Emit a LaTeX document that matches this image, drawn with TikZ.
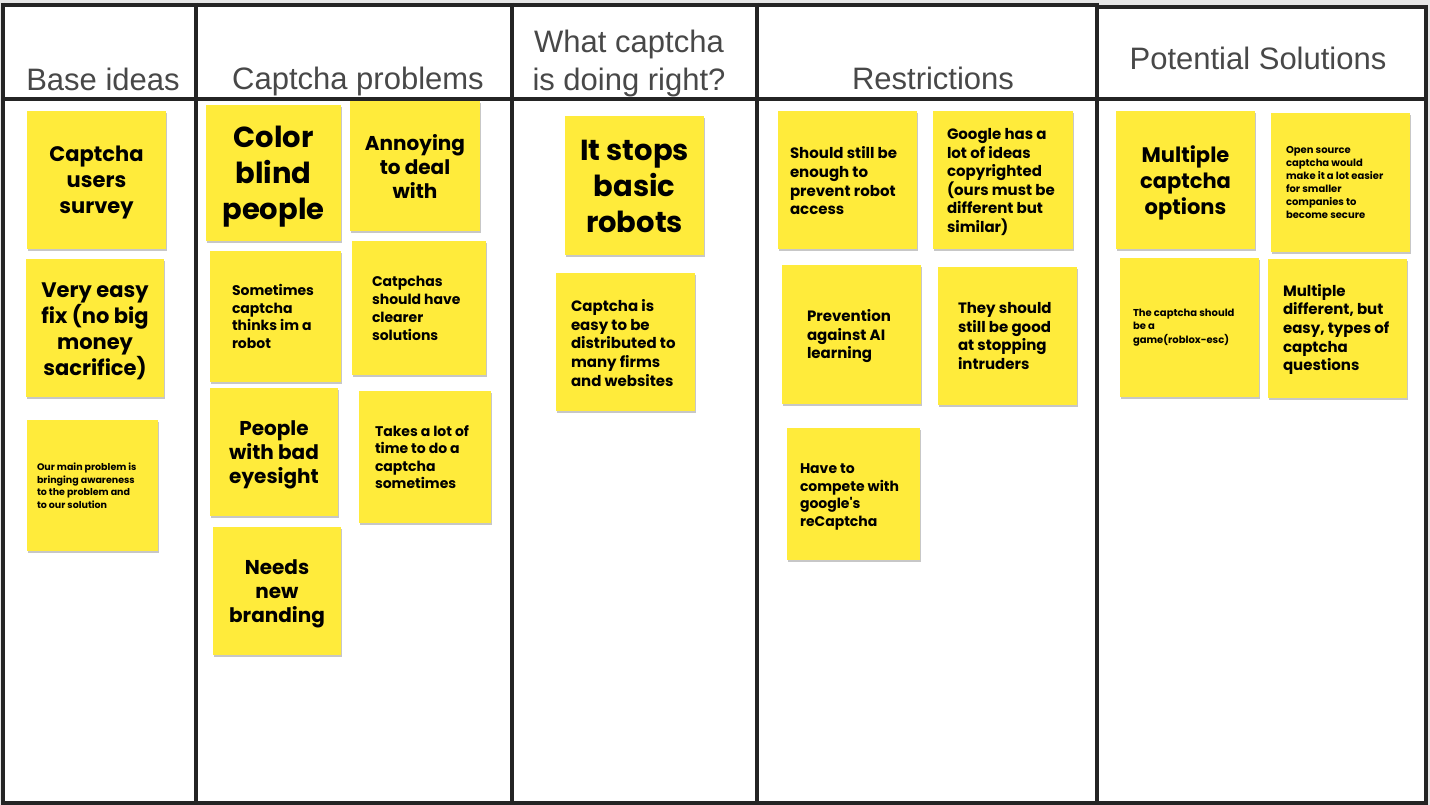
\documentclass[tikz,border=0pt]{standalone}
\usepackage{fontspec}
\setmainfont{Poppins}
\newfontfamily\popplain{Poppins}[Ligatures=TeXOff]
\newfontfamily\headfont{Liberation Sans}
\usetikzlibrary{shadows}
\definecolor{stickyY}{RGB}{255,235,59}
\definecolor{gridc}{RGB}{36,36,36}
\definecolor{headc}{RGB}{72,72,72}
\definecolor{bgc}{RGB}{230,230,230}
\newcommand\stickyat[5]{\node[stickybox, minimum width={#4-#2}, minimum height={#5-#3}] (#1) at ({(#2+#4)/2},{(#3+#5)/2}) {};}
\newcommand\fs[2]{\fontsize{#1}{#2}\selectfont}
\begin{document}
\begin{tikzpicture}[x=1pt,y=-1pt,
  stickybox/.style={rectangle, fill=stickyY, inner sep=0pt, draw=none,
    drop shadow={shadow xshift=1pt, shadow yshift=-2pt, fill=black, opacity=0.22}},
  txt/.style={inner sep=0pt, text=black, font=\bfseries},
  ctxt/.style={txt, align=center},
  ltxt/.style={txt, align=left, anchor=west},
  head/.style={inner sep=0pt, text=headc, font=\headfont\fs{31}{40}, anchor=base, align=center},
  gridline/.style={draw=gridc, line width=4pt}]
\useasboundingbox (0,0) rectangle (1430,805);
\fill[bgc] (0,0) rectangle (1430,805);
\fill[white] (3,5) rectangle (1428,803);
% grid
\draw[gridline] (3,5) -- (1097,5);
\draw[gridline] (1097,7) -- (1427,7);
\draw[gridline] (3,99) -- (1427,99);
\draw[gridline] (3,803) -- (1427,803);
\draw[gridline] (3,3) -- (3,805);
\draw[gridline] (196,3) -- (196,805);
\draw[gridline] (512,3) -- (512,805);
\draw[gridline] (757,3) -- (757,805);
\draw[gridline] (1097,3) -- (1097,805);
\draw[gridline] (1426,5) -- (1426,805);
% headers
\node[head] (h1) at (103,91) {Base ideas};
\node[head] (h2) at (358,90) {Captcha problems};
\node[head] (h3a) at (629,53) {What captcha};
\node[head] (h3b) at (629,91) {is doing right?};
\node[head] (h4) at (933,90) {Restrictions};
\node[head] (h5) at (1258,70) {Potential Solutions};
% column 1
\stickyat{a1}{27}{111}{166}{249}
\node[ctxt, font=\bfseries\fs{21}{26}] (a1t) at ([yshift=-3pt]a1.center) {Captcha\\users\\survey};
\stickyat{a2}{26}{259}{164}{397}
\node[ctxt, font=\bfseries\fs{21}{26}] (a2t) at ([yshift=-3pt]a2.center) {Very easy\\fix (no big\\money\\sacrifice)};
\stickyat{a3}{27}{420}{158}{551}
\node[ltxt, font=\bfseries\fs{9.5}{12.5}] (a3t) at ([xshift=10pt]a3.west) {Our main problem is\\bringing awareness\\to the problem and\\to our solution};
% column 2
\stickyat{b1}{206}{105}{341}{241}
\node[ctxt, font=\bfseries\fs{29}{36}] (b1t) at ([yshift=-4pt]b1.center) {Color\\blind\\people};
\stickyat{b2}{350}{101}{480}{231}
\node[ctxt, font=\bfseries\fs{20}{24}] (b2t) at (b2.center) {Annoying\\to deal\\with};
\stickyat{b3}{210}{251}{341}{382}
\node[ltxt, font=\bfseries\fs{14}{17.5}] (b3t) at ([xshift=22pt]b3.west) {Sometimes\\captcha\\thinks im a\\robot};
\stickyat{b4}{352}{241}{486}{375}
\node[ltxt, font=\bfseries\fs{14}{18}] (b4t) at ([xshift=20pt]b4.west) {Catpchas\\should have\\clearer\\solutions};
\stickyat{b5}{210}{388}{338}{516}
\node[ctxt, font=\bfseries\fs{20}{24}] (b5t) at ([yshift=-3pt]b5.center) {People\\with bad\\eyesight};
\stickyat{b6}{359}{391}{491}{523}
\node[ltxt, font=\bfseries\fs{14}{17.5}] (b6t) at ([xshift=16pt]b6.west) {Takes a lot of\\time to do a\\captcha\\sometimes};
\stickyat{b7}{213}{527}{341}{655}
\node[ctxt, font=\bfseries\fs{20}{24}] (b7t) at ([yshift=-3pt]b7.center) {Needs\\new\\branding};
% column 3
\stickyat{c1}{565}{116}{704}{255}
\node[ctxt, font=\bfseries\fs{29}{36}] (c1t) at ([yshift=-1pt]c1.center) {It stops\\basic\\robots};
\stickyat{c2}{556}{273}{695}{411}
\node[ltxt, font=\bfseries\fs{15}{18.7}] (c2t) at ([xshift=15pt,yshift=-1pt]c2.west) {Captcha is\\easy to be\\distributed to\\many firms\\and websites};
% column 4
\stickyat{d1}{778}{111}{917}{249}
\node[ltxt, font=\bfseries\fs{15}{18.7}] (d1t) at ([xshift=12pt,yshift=-1pt]d1.west) {Should still be\\enough to\\prevent robot\\access};
\stickyat{d2}{933}{111}{1073}{249}
\node[ltxt, font=\bfseries\fs{15}{18.5}] (d2t) at ([xshift=14pt,yshift=-2pt]d2.west) {Google has a\\lot of ideas\\copyrighted\\(ours must be\\different but\\similar)};
\stickyat{d3}{782}{265}{921}{404}
\node[ltxt, font=\bfseries\fs{15}{18.5}] (d3t) at ([xshift=25pt,yshift=-2pt]d3.west) {Prevention\\against AI\\learning};
\stickyat{d4}{938}{267}{1077}{405}
\node[ltxt, font=\bfseries\fs{15}{18.7}] (d4t) at ([xshift=20pt]d4.west) {They should\\still be good\\at stopping\\intruders};
\stickyat{d5}{787}{428}{920}{560}
\node[ltxt, font=\bfseries\fs{14}{17.5}] (d5t) at ([xshift=13pt,yshift=-3pt]d5.west) {Have to\\compete with\\google{\popplain\bfseries '}s\\reCaptcha};
% column 5
\stickyat{e1}{1116}{111}{1255}{249}
\node[ctxt, font=\bfseries\fs{21}{26}] (e1t) at ([yshift=-3pt]e1.center) {Multiple\\captcha\\options};
\stickyat{e2}{1271}{113}{1410}{252}
\node[ltxt, font=\bfseries\fs{10}{13}] (e2t) at ([xshift=15pt]e2.west) {Open source\\captcha would\\make it a lot easier\\for smaller\\companies to\\become secure};
\stickyat{e3}{1120}{258}{1259}{397}
\node[ltxt, font=\bfseries\fs{10}{13.5}] (e3t) at ([xshift=13pt]e3.west) {The captcha should\\be a\\game(roblox-esc)};
\stickyat{e4}{1268}{259}{1407}{398}
\node[ltxt, font=\bfseries\fs{15}{18.7}] (e4t) at ([xshift=15pt,yshift=-1pt]e4.west) {Multiple\\different, but\\easy, types of\\captcha\\questions};
\end{tikzpicture}
\end{document}
